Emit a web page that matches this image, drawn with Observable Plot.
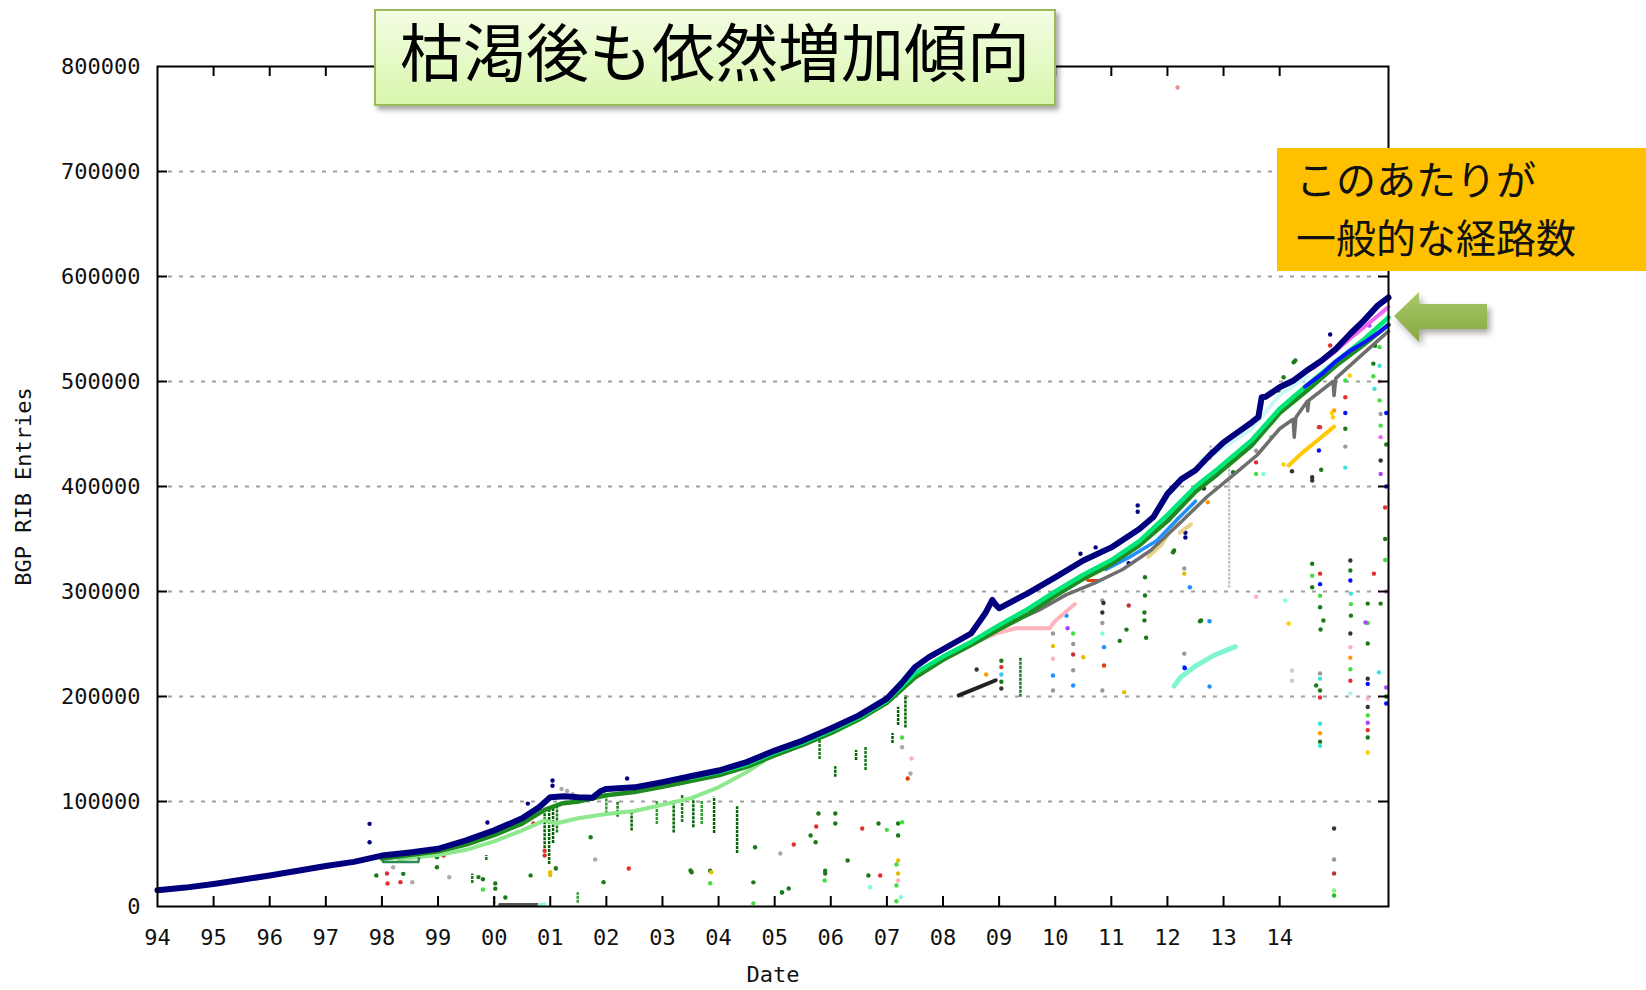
<!DOCTYPE html>
<html><head><meta charset="utf-8">
<script src="https://cdn.jsdelivr.net/npm/d3@7"></script>
<script src="https://cdn.jsdelivr.net/npm/@observablehq/plot@0.6"></script>
<style>
body{margin:0;background:#fff;}
#wrap{position:relative;width:1646px;height:990px;overflow:hidden;background:#fff;}
#chart{position:absolute;left:0;top:0;}
.title{position:absolute;left:374px;top:9px;width:678px;height:93px;border:2px solid #9bbb59;background:linear-gradient(#f3fde3,#d9f6ad);box-shadow:3px 4px 5px rgba(0,0,0,.35);}
.title span{position:absolute;left:0;right:0;top:6px;text-align:center;font:400 63px/63px "Noto Sans CJK JP",sans-serif;color:#000;white-space:nowrap;}
.note{position:absolute;left:1277px;top:148px;width:369px;height:123px;background:#ffc000;}
.note div{position:absolute;left:19px;font:400 40px/40px "Noto Sans CJK JP",sans-serif;color:#111;white-space:nowrap;}
#arrow{position:absolute;left:0;top:0;pointer-events:none;}
</style></head>
<body>
<div id="wrap">
<div id="chart"></div>
<div class="title"><span>枯渇後も依然増加傾向</span></div>
<div class="note"><div style="top:10px">このあたりが</div><div style="top:68px">一般的な経路数</div></div>
<svg id="arrow" width="1646" height="990">
<defs><linearGradient id="ag" x1="0" y1="0" x2="0" y2="1"><stop offset="0" stop-color="#a9c86a"/><stop offset="1" stop-color="#86a83f"/></linearGradient>
<filter id="sh" x="-20%" y="-30%" width="150%" height="170%"><feDropShadow dx="3" dy="4" stdDeviation="3" flood-color="#000" flood-opacity="0.35"/></filter></defs>
<polygon points="1394,316 1419,292 1419,304 1487,304 1487,329 1419,329 1419,342" fill="url(#ag)" filter="url(#sh)"/>
</svg>
</div>
<script>
// ---- data ----
const xTickYears = [1994,1995,1996,1997,1998,1999,2000,2001,2002,2003,2004,2005,2006,2007,2008,2009,2010,2011,2012,2013,2014];
const yTickValues = [0,100000,200000,300000,400000,500000,600000,700000,800000];
const gridValues = [100000,200000,300000,400000,500000,600000,700000];

const navy = [[1994.0,15500],[1994.5,18000],[1995.0,21500],[1995.5,25500],[1996.0,29500],[1996.5,34000],[1997.0,38500],[1997.5,42500],[1998.0,48500],[1998.5,51500],[1999.0,55000],[1999.5,63000],[2000.0,72500],[2000.5,84000],[2000.8,94500],[2001.0,104000],[2001.25,105000],[2001.5,104000],[2001.75,103500],[2001.9,110000],[2002.0,112000],[2002.5,113500],[2003.0,118500],[2003.5,124000],[2004.0,129500],[2004.5,137500],[2005.0,148500],[2005.5,158000],[2006.0,169500],[2006.5,182000],[2007.0,198000],[2007.25,212000],[2007.5,228000],[2007.75,237500],[2008.0,245000],[2008.5,260000],[2008.75,279000],[2008.88,292000],[2008.93,288000],[2009.0,284000],[2009.5,298000],[2010.0,313500],[2010.5,329500],[2011.0,342000],[2011.5,359500],[2011.75,371000],[2012.0,393000],[2012.25,407000],[2012.5,415500],[2012.75,429500],[2013.0,442000],[2013.25,451500],[2013.5,461000],[2013.62,466000],[2013.68,485000],[2013.75,485500],[2014.0,494500],[2014.25,501000],[2014.5,511000],[2014.75,520000],[2015.0,531000],[2015.25,545000],[2015.5,558000],[2015.75,572500],[2015.94,580000]];
const springGreen = [[2003.5,122500],[2004.0,128000],[2004.5,135500],[2005.0,146500],[2005.5,156000],[2006.0,167500],[2006.5,180000],[2007.0,196000],[2007.5,222000],[2008.0,238000],[2008.5,252000],[2009.0,268000],[2009.5,283000],[2010.0,300000],[2010.5,316000],[2011.0,330000],[2011.5,348000],[2012.0,373000],[2012.5,400000],[2012.9,417000],[2013.5,444000],[2014.0,474000],[2014.5,497000],[2015.0,519000],[2015.5,540000],[2015.94,561000]];
const darkGreen = [[1998.0,45500],[1998.5,49000],[1999.0,52500],[1999.5,59000],[2000.0,68000],[2000.5,79000],[2000.9,92000],[2001.2,98000],[2001.5,100000],[2002.0,106000],[2002.5,109000],[2003.0,114000],[2003.5,119500],[2004.0,125000],[2004.5,133000],[2005.0,144000],[2005.5,154000],[2006.0,165000],[2006.5,178000],[2007.0,194000],[2007.5,218000],[2008.0,235000],[2008.5,249000],[2009.0,264000],[2009.5,278000],[2010.0,296000],[2010.5,312000],[2011.0,326000],[2011.5,344000],[2012.0,367000],[2012.5,395000],[2012.9,412000],[2013.5,439000],[2014.0,470000],[2014.5,492000],[2015.0,515000],[2015.5,535000],[2015.94,554000]];
const lightGreen = [[1998.3,45000],[1999.0,49000],[1999.5,54000],[2000.0,62000],[2000.5,72500],[2000.9,82000],[2001.1,79000],[2001.5,84000],[2002.0,88000],[2002.5,91000],[2002.8,94500],[2003.5,103000],[2004.0,113500],[2004.5,128000],[2004.8,138000]];
const gray = [[2009.2,270000],[2009.7,282000],[2010.2,297000],[2010.7,308000],[2011.2,321000],[2011.7,339000],[2012.2,364000],[2012.7,390000],[2013.2,412000],[2013.6,430000],[2014.0,455000],[2014.24,464000],[2014.26,447000],[2014.29,466000],[2014.49,481000],[2014.5,472000],[2014.52,482000],[2014.95,500000],[2014.97,486600],[2015.0,503000],[2015.5,527000],[2015.94,548000]];
const dodgerBlue = [[2010.9,321000],[2011.3,332000],[2011.8,348000],[2012.2,370000],[2012.5,386000]];
const blue = [[2014.45,495000],[2014.75,507000],[2015.0,519000],[2015.25,529000],[2015.5,537000],[2015.75,546000],[2015.94,554000]];
const magenta = [[2014.6,513000],[2015.0,529000],[2015.3,543000],[2015.6,556000],[2015.94,571000]];
const lightCyan = [[2012.6,425000],[2013.0,437000],[2013.5,455000],[2014.0,487000],[2014.5,505000]];
const khaki = [[2011.66,333000],[2011.9,345000],[2012.18,369000]];
const khaki2 = [[2012.22,356000],[2012.42,364000]];
const gold = [[2014.16,420000],[2014.4,432000],[2014.7,445000],[2014.97,457000]];
const aquamarine = [[2012.12,210000],[2012.23,218000],[2012.5,229000],[2012.82,239000],[2013.21,247500]];
const black = [[2008.28,201000],[2008.6,208000],[2008.94,215500]];
const pink = [[2008.5,250000],[2009.0,261000],[2009.3,265000],[2009.9,265000],[2010.0,272000],[2010.35,288000]];
const seaGreen = [[1998.0,47000],[1998.02,42500],[1998.65,42500],[1998.66,46000]];
const bottomGray = [[2000.1,2000],[2000.77,2000]];
const bottomAqua = [[2000.8,1500],[2000.9,2500]];
const orangeRed = [[2010.58,310500],[2010.76,310500]];

// vertical streaks: [year, low, high, colour]
const spikes = [[2000.9,55000,90000,"#006400"],[2000.98,40000,95000,"#006400"],[2001.05,60000,93000,"#006400"],[2001.12,70000,96000,"#1a7a1a"],
[2002.0,88000,104000,"#2e9e2e"],[2002.2,85000,100000,"#1a7a1a"],[2002.45,72000,89000,"#006400"],[2002.9,78000,100000,"#2e9e2e"],[2003.2,70000,101000,"#006400"],[2003.35,80000,106000,"#1a7a1a"],[2003.55,75000,105000,"#006400"],[2003.7,78000,100000,"#2e9e2e"],[2003.92,69500,104000,"#006400"],[2004.33,50500,95000,"#006400"],
[2005.8,140000,160000,"#1a7a1a"],[2006.08,123000,133000,"#006400"],[2006.45,139000,148600,"#006400"],[2006.62,129500,151700,"#1a7a1a"],[2007.1,155200,164700,"#006400"],[2007.2,172500,189800,"#006400"],[2007.33,170000,201000,"#006400"],
[2009.38,199300,237400,"#1a7a1a"],[2013.1,303000,425000,"#c8c8c8"],[2012.77,424800,439000,"#c8c8c8"],
[2000.0,2200,8600,"#1a7a1a"],[2001.49,3000,13000,"#2e9e2e"],[1999.61,22000,31000,"#1a7a1a"],[1999.86,43700,48500,"#1a7a1a"]];

// isolated points: [year, value, colour]
const dots = [[1997.78,78700,"#000080"],[1997.78,61200,"#000080"],[1999.88,80000,"#000080"],[2000.6,98000,"#000080"],[2001.04,120000,"#000080"],[2001.04,115000,"#000080"],[2002.37,121900,"#000080"],[2010.45,336000,"#000080"],[2010.72,342000,"#000080"],[2011.31,327000,"#000080"],[2011.47,382000,"#000080"],[2011.47,376000,"#000080"],[2012.32,356000,"#000080"],[2012.32,351500,"#000080"],[2014.9,544800,"#000080"],
[1997.9,29500,"#1a7a1a"],[1998.09,31400,"#e03030"],[1998.1,21900,"#e03030"],[1998.38,31100,"#1a7a1a"],[1998.33,23200,"#e03030"],[1998.54,23200,"#aaaaaa"],[1998.2,37400,"#aaaaaa"],[1998.98,47000,"#1a7a1a"],[1998.98,37400,"#1a7a1a"],[1999.2,27900,"#aaaaaa"],[1999.1,48500,"#e03030"],[1999.72,28000,"#1a7a1a"],[1999.8,26000,"#1a7a1a"],[2000.02,22000,"#1a7a1a"],[2000.02,17000,"#1a7a1a"],[1999.8,16200,"#44dd44"],[2000.2,8600,"#1a7a1a"],[2000.65,29600,"#1a7a1a"],[2000.7,79000,"#e03030"],[2000.9,53000,"#e03030"],[2000.9,48600,"#e03030"],[2001.0,30000,"#e0c000"],[2001.1,37000,"#aaaaaa"],[2001.2,112000,"#aaaaaa"],[2001.3,110000,"#aaaaaa"],[2001.4,107000,"#aaaaaa"],[2001.0,32700,"#e0c000"],[2001.1,36200,"#1a7a1a"],
[2001.8,44800,"#aaaaaa"],[2001.95,23200,"#1a7a1a"],[2001.72,66000,"#1a7a1a"],[2002.4,36200,"#e03030"],[2003.5,34300,"#1a7a1a"],[2003.52,32600,"#1a7a1a"],[2003.85,34000,"#1a7a1a"],[2003.87,32600,"#e0c000"],[2003.85,22200,"#44dd44"],[2004.62,23000,"#1a7a1a"],[2004.62,3000,"#44dd44"],[2004.65,56500,"#1a7a1a"],[2005.1,50500,"#aaaaaa"],[2005.13,13600,"#44dd44"],[2005.34,59000,"#e03030"],[2005.73,61200,"#1a7a1a"],[2005.74,76200,"#e03030"],[2006.08,88600,"#1a7a1a"],[2006.08,79000,"#1a7a1a"],[2005.78,88600,"#1a7a1a"],[2006.3,43800,"#1a7a1a"],[2005.9,34000,"#1a7a1a"],[2005.9,31500,"#1a7a1a"],[2006.56,74300,"#e03030"],[2006.85,79000,"#1a7a1a"],[2006.88,29500,"#e03030"],[2007.2,67600,"#1a7a1a"],[2007.2,79000,"#1a7a1a"],[2007.2,43800,"#e0c000"],[2007.2,31400,"#e0c000"],[2007.2,24800,"#ffb0b8"],[2007.37,121900,"#e04000"],[2007.42,126600,"#aaaaaa"],[2006.67,29500,"#1a7a1a"],[2006.7,18400,"#7fffd4"],[2005.25,17100,"#1a7a1a"],[2005.13,13300,"#1a7a1a"],[2007.17,40000,"#44dd44"],[2007.17,20000,"#44dd44"],[2007.17,5000,"#44dd44"],[2007.27,161000,"#44dd44"],[2007.27,151700,"#aaaaaa"],[2007.27,80200,"#44dd44"],[2007.25,8900,"#7fffd4"],[2007.44,141000,"#ffb0b8"],[2005.64,67600,"#1a7a1a"],[2005.89,24800,"#44dd44"],[2007.0,73000,"#44dd44"],
[2008.6,225700,"#333333"],[2008.77,221000,"#ff9900"],[2009.04,234000,"#1a7a1a"],[2009.04,228000,"#e03030"],[2009.04,221000,"#40c0ff"],[2009.04,214000,"#1a7a1a"],[2009.04,207600,"#333333"],[2009.96,260000,"#999999"],[2009.96,248000,"#e0c000"],[2009.96,236000,"#ffb0b8"],[2009.96,220000,"#1e90ff"],[2009.96,205700,"#999999"],[2010.32,260000,"#44dd44"],[2010.32,250000,"#999999"],[2010.32,240000,"#c03030"],[2010.32,225000,"#999999"],[2010.32,210500,"#1e90ff"],[2010.5,237400,"#e0c000"],[2010.84,291400,"#999999"],[2010.84,280000,"#333333"],[2010.84,270000,"#999999"],[2010.84,260000,"#7fffd4"],[2010.87,247000,"#1e90ff"],[2010.87,229500,"#e04000"],[2010.84,205700,"#999999"],[2011.23,204000,"#e0c000"],[2011.15,253000,"#1a7a1a"],[2011.27,263700,"#1a7a1a"],[2011.59,280000,"#1a7a1a"],[2011.59,272500,"#1a7a1a"],[2011.62,256000,"#1a7a1a"],[2011.31,286700,"#c03030"],[2011.6,313600,"#1a7a1a"],[2011.6,296200,"#1a7a1a"],[2012.1,337400,"#1a7a1a"],[2012.3,322000,"#999999"],[2012.3,317000,"#e0c000"],[2012.4,304000,"#1e90ff"],[2012.6,272400,"#1a7a1a"],[2012.3,228000,"#1e90ff"],[2012.3,240800,"#999999"],[2010.2,277000,"#1e90ff"],[2010.22,265000,"#aa44ff"],[2010.86,289000,"#333333"],[2012.18,780000,"#e89090"],
[2014.58,326500,"#1a7a1a"],[2014.58,315000,"#44dd44"],[2014.58,304000,"#1a7a1a"],[2014.72,317000,"#e03030"],[2014.72,307000,"#0010ff"],[2014.72,296000,"#44dd44"],[2014.72,285000,"#1a7a1a"],[2014.78,272400,"#1a7a1a"],[2014.73,263800,"#1a7a1a"],[2014.72,222000,"#999999"],[2014.72,217000,"#40e0e0"],[2014.65,210500,"#1a7a1a"],[2014.72,205700,"#1a7a1a"],[2014.72,199000,"#e03030"],[2014.72,174000,"#40e0e0"],[2014.72,165000,"#ff9900"],[2014.72,157000,"#1a7a1a"],[2014.72,153000,"#40e0e0"],[2015.26,329500,"#333333"],[2015.26,320000,"#1a7a1a"],[2015.26,310500,"#0010ff"],[2015.27,298000,"#40e0e0"],[2015.27,288000,"#44dd44"],[2015.27,277000,"#1a7a1a"],[2015.26,260000,"#333333"],[2015.26,247000,"#ffb0b8"],[2015.26,237000,"#ff9900"],[2015.26,226000,"#44dd44"],[2015.26,215000,"#e03030"],[2015.26,203000,"#b0f0f0"],[2015.57,288500,"#1a7a1a"],[2015.57,270000,"#44dd44"],[2015.57,250500,"#1a7a1a"],[2015.57,217000,"#333333"],[2015.57,212000,"#0010ff"],[2015.57,198000,"#ffb0b8"],[2015.57,190000,"#333333"],[2015.57,182000,"#44dd44"],[2015.57,175000,"#aa44ff"],[2015.57,168000,"#e03030"],[2015.57,161000,"#1a7a1a"],[2015.57,146700,"#ffcc00"],[2015.53,270500,"#aa44ff"],[2015.9,208600,"#aa44ff"],[2015.9,200000,"#1a7a1a"],[2015.9,193300,"#0010ff"],[2014.97,74300,"#333333"],[2014.97,44800,"#999999"],[2014.97,31400,"#c03030"],[2014.97,15200,"#88ee88"],[2014.97,10500,"#22bb22"],[2012.58,271700,"#1a7a1a"],[2012.75,271700,"#1e90ff"],[2012.75,209500,"#1e90ff"],[2012.31,227000,"#0010ff"],[2014.16,269500,"#ffcc00"],[2014.22,224800,"#cccccc"],[2014.22,215000,"#cccccc"],[2014.1,291400,"#7fffd4"],[2013.58,295000,"#ffb0b8"],[2015.68,317000,"#e03030"],[2015.8,288500,"#1a7a1a"],[2015.77,223000,"#40e0e0"],
[2014.9,534300,"#e03030"],[2014.25,518400,"#1a7a1a"],[2014.28,520000,"#1a7a1a"],[2014.07,504000,"#1a7a1a"],[2013.98,491400,"#1a7a1a"],[2015.6,553300,"#aa44ff"],[2015.7,534000,"#1a7a1a"],[2015.78,532700,"#44dd44"],[2015.78,515000,"#40e0e0"],[2015.78,500000,"#ffb0b8"],[2015.78,482000,"#44dd44"],[2015.67,517000,"#1a7a1a"],[2015.67,505000,"#44dd44"],[2015.69,493000,"#40e0e0"],[2015.17,501000,"#44dd44"],[2015.17,485000,"#e03030"],[2015.17,470000,"#0010ff"],[2015.17,455000,"#1a7a1a"],[2015.17,438000,"#999999"],[2015.17,418000,"#40e0e0"],[2015.8,469000,"#999999"],[2015.8,458000,"#44dd44"],[2015.8,447000,"#ee66ee"],[2015.8,424800,"#333333"],[2015.8,412000,"#aa44ff"],[2014.7,456500,"#e03030"],[2014.72,456500,"#e03030"],[2014.7,434300,"#0010ff"],[2014.97,472400,"#ff9900"],[2015.25,505700,"#ffcc00"],[2013.58,434000,"#999999"],[2013.58,423000,"#e03030"],[2013.58,412000,"#44dd44"],[2013.71,412000,"#7fffd4"],[2013.85,447000,"#44dd44"],[2014.07,421000,"#ffcc00"],[2014.22,414500,"#333333"],[2014.58,408800,"#333333"],[2014.58,405700,"#333333"],[2014.74,416000,"#1a7a1a"],[2013.17,413600,"#1a7a1a"],[2012.72,385000,"#ff9900"],[2012.65,405700,"#333333"],[2012.65,398000,"#333333"],[2012.12,339000,"#1a7a1a"],[2014.95,466000,"#ffcc00"],[2014.93,470000,"#ffcc00"],
[2015.9,470000,"#0010ff"],[2015.9,440000,"#1a7a1a"],[2015.88,380000,"#e03030"],[2015.88,350000,"#1a7a1a"],[2015.9,300000,"#ee66ee"],[2015.88,330000,"#44dd44"],[2015.9,400000,"#0010ff"]];

// ---- chart ----
const X = d => d[0], Y = d => d[1];
const series = [
  [lightGreen,"#8ee88e",4],[pink,"#ffb3bd",4],[khaki,"#e6d48a",4],[khaki2,"#e6d48a",4],[gold,"#ffc800",4],
  [aquamarine,"#80f5d2",5],[black,"#222222",4],[seaGreen,"#2e8b57",2.5],[bottomGray,"#555555",3],[bottomAqua,"#7fffd4",3],[orangeRed,"#dd4400",3],
  [gray,"#6e6e6e",3.5],[dodgerBlue,"#2090ff",3.5],[darkGreen,"#1f8a1f",4.5],[springGreen,"#00e678",4.5],
  [lightCyan,"#cdf6f6",4],[blue,"#0a14ff",4],[magenta,"#ee66ee",4],[navy,"#00007f",6]
];

const plot = Plot.plot({
  width: 1646, height: 990,
  marginLeft: 157, marginRight: 258, marginTop: 66, marginBottom: 84,
  x: {domain: [1994, 2015.94], axis: null},
  y: {domain: [0, 800000], axis: null},
  color: {type: "identity"},
  style: {fontFamily: "'DejaVu Sans Mono', monospace", fontSize: "22px", background: "transparent", color: "#111"},
  marks: [
    Plot.ruleY(gridValues, {y: d => d, stroke: "#a0a0a0", strokeWidth: 2, strokeDasharray: "4 7", insetLeft: 11, insetRight: 11}),
    Plot.ruleX(spikes, {x: d => d[0], y1: d => d[1], y2: d => d[2], stroke: d => d[3], strokeWidth: 2.5, strokeDasharray: "3 1"}),
    Plot.dot(dots, {x: X, y: Y, fill: d => d[2], r: 2.2}),
    ...series.map(([data, c, w]) => Plot.line(data, {x: X, y: Y, stroke: c, strokeWidth: w, strokeLinejoin: "round"})),
    Plot.frame({stroke: "#000", strokeWidth: 2}),
    Plot.tickX(xTickYears.slice(1), {x: d => d, insetTop: 830, stroke: "#000", strokeWidth: 2}),
    Plot.tickX(xTickYears.slice(1), {x: d => d, insetBottom: 830, stroke: "#000", strokeWidth: 2}),
    Plot.tickY(gridValues, {y: d => d, insetRight: 1221, stroke: "#000", strokeWidth: 2}),
    Plot.tickY(gridValues, {y: d => d, insetLeft: 1221, stroke: "#000", strokeWidth: 2}),
    Plot.text(yTickValues, {y: d => d, text: d => String(d), frameAnchor: "left", textAnchor: "end", dx: -17, fill: "#111"}),
    Plot.text(xTickYears, {x: d => d, text: d => String(d % 100).padStart(2, "0"), frameAnchor: "bottom", lineAnchor: "top", dy: 23, fill: "#111"}),
    Plot.text(["BGP RIB Entries"], {frameAnchor: "left", textAnchor: "middle", lineAnchor: "middle", rotate: -90, dx: -134, fill: "#111"}),
    Plot.text(["Date"], {frameAnchor: "bottom", textAnchor: "middle", lineAnchor: "middle", dy: 68, fill: "#111"})
  ]
});
document.getElementById("chart").appendChild(plot);
</script>
</body></html>
